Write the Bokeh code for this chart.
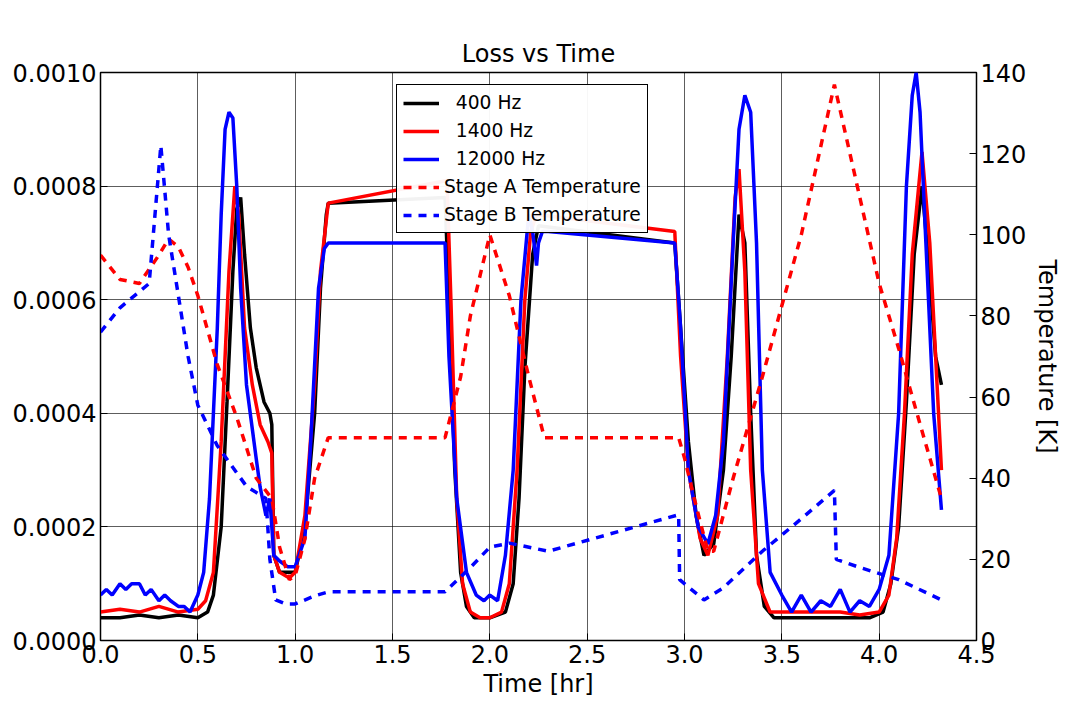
from bokeh.plotting import figure
from bokeh.models import Range1d, LinearAxis, PrintfTickFormatter, Legend, LegendItem, FixedTicker
from bokeh.embed import file_html
from bokeh.resources import INLINE

# loss curves (time in hr, loss)
t_400 = [0.0, 0.1, 0.2, 0.3, 0.4, 0.5, 0.55, 0.58, 0.62, 0.65, 0.68, 0.7, 0.72, 0.74, 0.77, 0.8, 0.84, 0.87, 0.88, 0.89, 0.92,
         1.0, 1.05, 1.1, 1.13, 1.16, 1.17, 1.77, 1.79, 1.82, 1.85, 1.88, 1.92, 2.0, 2.08, 2.12, 2.15, 2.18, 2.22, 2.25, 2.95,
         2.98, 3.02, 3.06, 3.1, 3.15, 3.2, 3.24, 3.28, 3.31, 3.34, 3.37, 3.41, 3.46, 3.6, 3.8, 3.95, 4.02, 4.06, 4.1, 4.14,
         4.18, 4.22, 4.25, 4.29, 4.32]
l_400 = [0.00004, 0.00004, 0.000045, 0.00004, 0.000045, 0.00004, 0.00005, 0.00008, 0.0002, 0.00042, 0.00065, 0.00076, 0.00078,
         0.00068, 0.00055, 0.00048, 0.00042, 0.0004, 0.00038, 0.00015, 0.00012, 0.00012, 0.0002, 0.0004, 0.00062, 0.00075,
         0.00077, 0.00078, 0.0006, 0.0003, 0.00012, 0.00006, 0.00004, 0.00004, 0.00005, 0.0001, 0.00025, 0.00048, 0.00068,
         0.00073, 0.0007, 0.00055, 0.00035, 0.00022, 0.00015, 0.00017, 0.0003, 0.0005, 0.00075, 0.0007, 0.0004, 0.00015,
         0.00006, 0.00004, 0.00004, 0.00004, 0.00004, 0.00005, 0.0001, 0.0002, 0.00042, 0.00068, 0.0008, 0.00068, 0.0005,
         0.00045]
t_1400 = [0.0, 0.1, 0.2, 0.3, 0.4, 0.5, 0.54, 0.58, 0.62, 0.66, 0.69, 0.71, 0.74, 0.78, 0.82, 0.86, 0.88, 0.89, 0.92, 0.97,
          1.0, 1.05, 1.1, 1.13, 1.17, 1.78, 1.8, 1.83, 1.86, 1.9, 1.95, 2.0, 2.06, 2.1, 2.14, 2.18, 2.21, 2.24, 2.95, 2.98,
          3.02, 3.08, 3.12, 3.17, 3.22, 3.26, 3.28, 3.31, 3.34, 3.38, 3.44, 3.5, 3.7, 3.8, 3.9, 4.0, 4.05, 4.09, 4.13, 4.17,
          4.22, 4.26, 4.29, 4.32]
l_1400 = [0.00005, 0.000055, 0.00005, 0.00006, 0.00005, 0.000055, 0.00007, 0.00012, 0.00035, 0.00065, 0.0008, 0.00075, 0.00055,
          0.00045, 0.00038, 0.00035, 0.00033, 0.00015, 0.00012, 0.00011, 0.00012, 0.00022, 0.00045, 0.00065, 0.00077, 0.00081,
          0.0006, 0.00025, 0.0001, 0.00005, 0.00004, 0.00004, 0.00005, 0.0001, 0.0003, 0.0006, 0.00072, 0.00075, 0.00072,
          0.0005, 0.0003, 0.00018, 0.00015, 0.00022, 0.0005, 0.00078, 0.00083, 0.00065, 0.0003, 0.0001, 0.00005, 0.00005,
          0.00005, 0.00005, 0.000045, 0.00005, 0.00008, 0.00018, 0.0004, 0.00068, 0.00086, 0.0007, 0.0005, 0.0003]
t_12000 = [0.0, 0.03, 0.06, 0.1, 0.13, 0.16, 0.2, 0.23, 0.26, 0.3, 0.33, 0.36, 0.4, 0.43, 0.46, 0.5, 0.53, 0.56, 0.6, 0.62,
           0.64, 0.66, 0.68, 0.7, 0.72, 0.75, 0.8, 0.82, 0.85, 0.87, 0.89, 0.92, 0.96, 1.0, 1.05, 1.08, 1.12, 1.15, 1.17, 1.77,
           1.79, 1.83, 1.88, 1.93, 1.97, 2.0, 2.04, 2.08, 2.12, 2.16, 2.2, 2.22, 2.24, 2.25, 2.27, 2.3, 2.95, 2.98, 3.02, 3.07,
           3.12, 3.16, 3.2, 3.25, 3.28, 3.31, 3.34, 3.37, 3.4, 3.44, 3.5, 3.55, 3.6, 3.65, 3.7, 3.75, 3.8, 3.85, 3.9, 3.95, 4.0,
           4.05, 4.1, 4.14, 4.17, 4.19, 4.21, 4.24, 4.28, 4.32]
l_12000 = [0.00008, 0.00009, 0.00008, 0.0001, 0.00009, 0.0001, 0.0001, 0.00008, 0.00009, 0.00007, 0.00008, 0.00007, 0.00006,
           0.00006, 0.00005, 0.00008, 0.00012, 0.00025, 0.00055, 0.00075, 0.0009, 0.00093, 0.00092, 0.0008, 0.00062, 0.00045,
           0.00032, 0.00027, 0.00022, 0.00025, 0.00015, 0.00014, 0.00013, 0.00013, 0.00018, 0.00035, 0.00062, 0.00069, 0.0007,
           0.0007, 0.0005, 0.00025, 0.00012, 0.00008, 0.00007, 0.00008, 0.00007, 0.00015, 0.0003, 0.0006, 0.00075, 0.00072,
           0.00066, 0.0007, 0.00072, 0.00072, 0.0007, 0.00055, 0.0003, 0.0002, 0.00017, 0.00022, 0.00035, 0.0007, 0.0009, 0.00096,
           0.00093, 0.0007, 0.0003, 0.00012, 0.00008, 0.00005, 0.00008, 0.00005, 0.00007, 0.00006, 0.00009, 0.00005, 0.00007,
           0.00006, 0.00009, 0.00015, 0.0004, 0.0008, 0.00096, 0.001, 0.00093, 0.0007, 0.0004, 0.00023]

# temperatures (time in hr, K)
t_stage_a = [0.0, 0.1, 0.2, 0.3, 0.35, 0.4, 0.45, 0.5, 0.6, 0.7, 0.8, 0.88, 0.92, 0.97, 1.0, 1.05, 1.1, 1.17, 1.77, 1.85, 1.9,
             2.0, 2.1, 2.2, 2.28, 2.97, 3.0, 3.05, 3.12, 3.15, 3.25, 3.4, 3.6, 3.77, 3.85, 4.0, 4.1, 4.2, 4.32]
k_stage_a = [95, 89, 88, 95, 99, 97, 92, 85, 68, 55, 40, 35, 23, 15, 16, 25, 40, 50, 50, 65, 80, 100, 85, 65, 50, 50, 45, 35,
             22, 22, 40, 65, 100, 137, 120, 88, 72, 55, 35]
t_stage_b = [0.0, 0.1, 0.2, 0.25, 0.31, 0.35, 0.4, 0.45, 0.5, 0.6, 0.75, 0.85, 0.87, 0.9, 0.95, 1.0, 1.1, 1.17, 1.77, 1.9, 2.0,
             2.1, 2.3, 2.97, 2.975, 3.1, 3.2, 3.4, 3.6, 3.77, 3.78, 3.9, 4.1, 4.32]
k_stage_b = [76, 82, 86, 88, 122, 100, 85, 70, 58, 48, 38, 35, 20, 10, 9, 9, 11, 12, 12, 18, 23, 24, 22, 31, 15, 10, 13, 22,
             30, 37, 20, 18, 15, 10]

FONT = "DejaVu Sans"

p = figure(width=1064, height=704, output_backend="svg", toolbar_location=None,
           x_range=Range1d(0, 4.5), y_range=Range1d(0, 0.001),
           min_border_left=100, min_border_right=84, min_border_top=72, min_border_bottom=64,
           title="Loss vs Time", x_axis_label="Time [hr]")
p.title.align = "center"
p.title.text_font = FONT
p.title.text_font_size = "18pt"
p.title.text_font_style = "normal"
p.title.text_color = "black"
p.extra_y_ranges = {"temp": Range1d(0, 140)}

r1 = p.line(t_400, l_400, color="black", line_width=3.5)
r2 = p.line(t_1400, l_1400, color="red", line_width=3.5)
r3 = p.line(t_12000, l_12000, color="blue", line_width=3.5)
r4 = p.line(t_stage_a, k_stage_a, color="red", line_width=3.5, line_dash="8 7", y_range_name="temp")
r5 = p.line(t_stage_b, k_stage_b, color="blue", line_width=3.5, line_dash="8 7", y_range_name="temp")

right = LinearAxis(y_range_name="temp", axis_label="Temperature [K]",
                   ticker=FixedTicker(ticks=[0, 20, 40, 60, 80, 100, 120, 140]))
right.axis_label_orientation = "vertical"
p.add_layout(right, "right")

p.xaxis.ticker = FixedTicker(ticks=[0, 0.5, 1, 1.5, 2, 2.5, 3, 3.5, 4, 4.5])
p.xaxis.formatter = PrintfTickFormatter(format="%.1f")
p.yaxis[0].ticker = FixedTicker(ticks=[0, 0.0002, 0.0004, 0.0006, 0.0008, 0.001])
p.yaxis[0].formatter = PrintfTickFormatter(format="%.4f")
for ax in p.axis:
    ax.major_label_text_font = FONT
    ax.major_label_text_font_size = "18pt"
    ax.major_label_text_color = "black"
    ax.axis_label_text_font = FONT
    ax.axis_label_text_font_size = "18pt"
    ax.axis_label_text_font_style = "normal"
    ax.axis_label_text_color = "black"
    ax.major_tick_in = 7
    ax.major_tick_out = 0
    ax.minor_tick_in = 0
    ax.minor_tick_out = 0
    ax.axis_line_color = "black"
    ax.major_label_standoff = 4
    ax.axis_label_standoff = 4

p.grid.grid_line_color = "black"
p.grid.grid_line_alpha = 0.8
p.grid.grid_line_width = 0.8
p.outline_line_color = "black"
p.outline_line_width = 1.5

legend = Legend(items=[
    LegendItem(label="  400 Hz", renderers=[r1]),
    LegendItem(label="  1400 Hz", renderers=[r2]),
    LegendItem(label="  12000 Hz", renderers=[r3]),
    LegendItem(label="Stage A Temperature", renderers=[r4]),
    LegendItem(label="Stage B Temperature", renderers=[r5]),
], location=(296, 407))
legend.label_text_font = FONT
legend.label_text_font_size = "14pt"
legend.label_text_color = "black"
legend.border_line_color = "black"
legend.border_line_width = 1
legend.border_line_alpha = 1
legend.glyph_width = 36
legend.spacing = 5
legend.padding = 6
legend.margin = 0
legend.label_height = 23
p.add_layout(legend, "center")

open("out.html", "w").write(file_html(p, INLINE))
